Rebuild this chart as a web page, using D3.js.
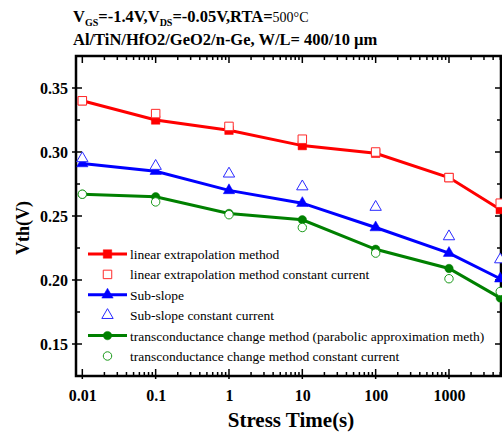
<!DOCTYPE html>
<html>
<head>
<meta charset="utf-8">
<script src="https://cdn.jsdelivr.net/npm/d3@7"></script>
<style>
  body { margin: 0; background: #fff; }
  svg text { font-family: "Liberation Serif", "Times New Roman", serif; fill: #000; }
  .tick text { font-weight: bold; font-size: 16px; }
</style>
</head>
<body>
<svg width="502" height="433"></svg>
<script>
// stress times (s)
var times = [0.01, 0.1, 1, 10, 100, 1000, 5000];
var xTickLabels = ["0.01", "0.1", "1", "10", "100", "1000"];
var yTicks = [0.15, 0.20, 0.25, 0.30, 0.35];

// Vth (V) per method
var linExtrap   = [0.340, 0.325, 0.317, 0.305, 0.299, 0.280, 0.255];
var linExtrapCC = [0.340, 0.330, 0.320, 0.310, 0.300, 0.280, 0.260];
var subSlope    = [0.291, 0.285, 0.270, 0.260, 0.241, 0.221, 0.201];
var subSlopeCC  = [0.295, 0.289, 0.283, 0.273, 0.257, 0.234, 0.216];
var transCond   = [0.267, 0.265, 0.252, 0.247, 0.224, 0.209, 0.186];
var transCondCC = [0.267, 0.261, 0.251, 0.241, 0.221, 0.201, 0.191];

var seriesNames = [
  "linear extrapolation method",
  "linear extrapolation method constant current",
  "Sub-slope",
  "Sub-slope constant current",
  "transconductance change method (parabolic approximation meth)",
  "transconductance change method constant current"
];

var serif = "Liberation Serif, Times New Roman, serif";

var svg = d3.select("svg"),
    margin = {top: 56, right: 1, bottom: 57, left: 76},
    width = svg.attr("width") - margin.left - margin.right,
    height = svg.attr("height") - margin.top - margin.bottom,
    g = svg.append("g").attr("transform", "translate(" + margin.left + "," + margin.top + ")");

var x = d3.scaleLog()
    .domain([0.0082, 5120])
    .range([0, width]);

var y = d3.scaleLinear()
    .domain([0.125, 0.375])
    .range([height, 0]);

// minor ticks
var xMajor = [0.01, 0.1, 1, 10, 100, 1000];
var xMinor = [];
xMajor.forEach(function(d) {
  for (var k = 2; k <= 9; k++) if (d * k <= 5120) xMinor.push(d * k);
});
var yMinor = [0.175, 0.225, 0.275, 0.325];

function tickLines(sel, vals, scale, orient, len, out) {
  sel.selectAll(null).data(vals).enter().append("line")
    .attr("stroke", "#000").attr("stroke-width", 1.5)
    .each(function(d) {
      var s = d3.select(this), p = scale(d);
      if (orient == "bottom") s.attr("x1", p).attr("x2", p).attr("y1", height + out).attr("y2", height - len);
      if (orient == "top") s.attr("x1", p).attr("x2", p).attr("y1", -out).attr("y2", len);
      if (orient == "left") s.attr("y1", p).attr("y2", p).attr("x1", -out).attr("x2", len);
      if (orient == "right") s.attr("y1", p).attr("y2", p).attr("x1", width + out).attr("x2", width - len);
    });
}

var ticksG = g.append("g").attr("class", "ticks");
tickLines(ticksG, xMajor, x, "bottom", 7, 3);
tickLines(ticksG, xMinor, x, "bottom", 4, 0);
tickLines(ticksG, xMajor, x, "top", 7, 0);
tickLines(ticksG, xMinor, x, "top", 4, 0);
tickLines(ticksG, yTicks, y, "left", 6, 4);
tickLines(ticksG, yMinor, y, "left", 4, 0);
tickLines(ticksG, yTicks, y, "right", 6, 0);
tickLines(ticksG, yMinor, y, "right", 4, 0);

// axes with labels
g.append("g")
    .attr("class", "axis axis--x")
    .attr("transform", "translate(0," + height + ")")
    .call(d3.axisBottom(x).tickValues(xMajor).tickSize(0).tickPadding(14)
      .tickFormat(function(d, i) { return xTickLabels[i]; }))
    .attr("font-family", serif)
    .call(function(a) { a.select(".domain").remove(); });

g.append("g")
    .attr("class", "axis axis--y")
    .call(d3.axisLeft(y).tickValues(yTicks).tickSize(0).tickPadding(8).tickFormat(d3.format(".2f")))
    .attr("font-family", serif)
    .call(function(a) { a.select(".domain").remove(); });

// frame
g.append("rect")
    .attr("width", width).attr("height", height)
    .attr("fill", "none").attr("stroke", "#000").attr("stroke-width", 2.5);

// series
var line = d3.line()
    .x(function(d, i) { return x(times[i]); })
    .y(function(d) { return y(d); });

var sq = d3.symbol().type(d3.symbolSquare),
    tri = d3.symbol().type(d3.symbolTriangle),
    circ = d3.symbol().type(d3.symbolCircle);

var series = [
  {vals: linExtrap,   color: "#ff0000", sym: sq.size(56),   filled: true},
  {vals: linExtrapCC, color: "#ff2a2a", sym: sq.size(72),   filled: false},
  {vals: subSlope,    color: "#0000ff", sym: tri.size(50),  filled: true},
  {vals: subSlopeCC,  color: "#2a2aff", sym: tri.size(56),  filled: false},
  {vals: transCond,   color: "#008000", sym: circ.size(52), filled: true},
  {vals: transCondCC, color: "#1a9a1a", sym: circ.size(56), filled: false}
];

series.forEach(function(s) {
  if (s.filled) {
    g.append("path")
        .datum(s.vals)
        .attr("fill", "none")
        .attr("stroke", s.color)
        .attr("stroke-width", 3)
        .attr("d", line);
  }
  g.selectAll(null).data(s.vals).enter().append("path")
      .attr("transform", function(d, i) { return "translate(" + x(times[i]) + "," + y(d) + ")"; })
      .attr("d", s.sym())
      .attr("fill", s.filled ? s.color : "#fff")
      .attr("stroke", s.color)
      .attr("stroke-width", s.filled ? 0.5 : 1);
});

// legend
var legend = svg.append("g").attr("transform", "translate(88,254)");
series.forEach(function(s, i) {
  var row = legend.append("g").attr("transform", "translate(0," + (i * 20.4) + ")");
  if (s.filled) {
    row.append("line").attr("x1", 0).attr("x2", 39).attr("y1", 0).attr("y2", 0)
        .attr("stroke", s.color).attr("stroke-width", 3);
  }
  row.append("path").attr("transform", "translate(19.5,0)")
      .attr("d", s.sym())
      .attr("fill", s.filled ? s.color : "none")
      .attr("stroke", s.color)
      .attr("stroke-width", s.filled ? 0.5 : 1);
  row.append("text").attr("x", 42).attr("y", 5)
      .attr("font-size", "13.5px").text(seriesNames[i]);
});

// axis titles
svg.append("text")
    .attr("x", 291).attr("y", 427)
    .attr("text-anchor", "middle")
    .attr("font-family", serif)
    .attr("font-weight", "bold").attr("font-size", "21px")
    .text("Stress Time(s)");

svg.append("text")
    .attr("transform", "translate(29,228) rotate(-90)")
    .attr("text-anchor", "middle")
    .attr("font-family", serif)
    .attr("font-weight", "bold").attr("font-size", "18px")
    .text("Vth(V)");

// header text
var t1 = svg.append("text").attr("x", 73).attr("y", 22)
    .attr("font-weight", "bold").attr("font-size", "16.5px");
t1.append("tspan").text("V");
t1.append("tspan").attr("font-size", "10px").attr("dy", 4).text("GS");
t1.append("tspan").attr("dy", -4).text("=-1.4V,V");
t1.append("tspan").attr("font-size", "10px").attr("dy", 4).text("DS");
t1.append("tspan").attr("dy", -4).text("=-0.05V,RTA=");
t1.append("tspan").attr("font-weight", "normal").attr("font-size", "14px").text("500°C");

svg.append("text").attr("x", 73).attr("y", 45)
    .attr("font-weight", "bold").attr("font-size", "16.5px")
    .text("Al/TiN/HfO2/GeO2/n-Ge, W/L= 400/10 µm");
</script>
</body>
</html>
